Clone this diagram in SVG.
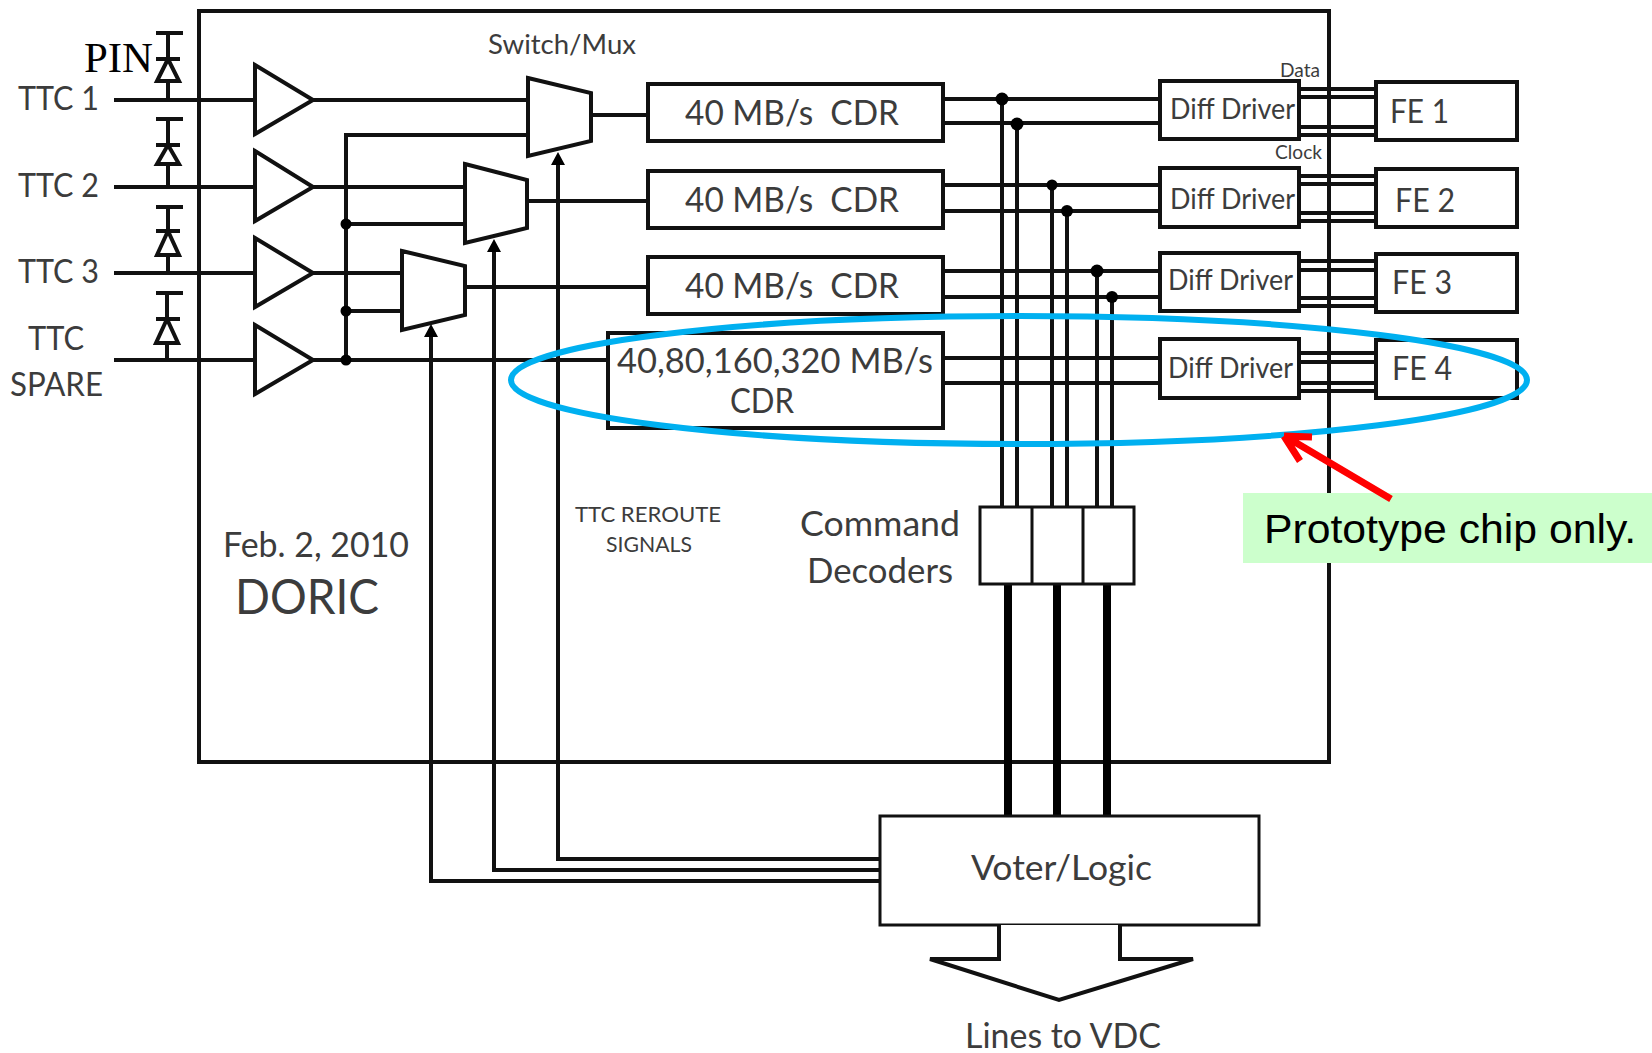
<svg xmlns="http://www.w3.org/2000/svg" width="1652" height="1053" viewBox="0 0 1652 1053">
<style>
.b{fill:#fff;stroke:#111;stroke-width:4}
.o{fill:none;stroke:#111;stroke-width:4}
.w{fill:none;stroke:#111;stroke-width:4}
.t{fill:none;stroke:#000;stroke-width:8}
.d{fill:#000}
text{font-family:Lato,"Liberation Sans",sans-serif;fill:#3c3c3c}
</style>
<rect width="1652" height="1053" fill="#fff"/>
<g id="doric-chip"><rect class="o" x="199" y="11" width="1130" height="751"/></g>
<g id="connectors">
<path class="w" d="M114 100H528M114 187H465M114 273H402M114 360H608"/>
<path class="w" d="M346 360V135H528M346 224H465M346 311H402"/>
<path class="w" d="M592 115H648M528 201H648M465 287H648"/>
<path class="w" d="M880 859H558V164M880 870H494V250M880 881H431V335"/>
<path class="d" d="M558 152l-7 13h14zM494 239l-7 13h14zM431 324l-7 13h14z"/>
<path class="w" d="M943 99H1162M943 123H1162M943 185H1162M943 211H1162M943 271H1162M943 297H1162M943 358H1162M943 383H1162"/>
<path class="w" d="M1002 99V507M1017 123V507M1052 185V507M1067 211V507M1097 271V507M1112 297V507"/>
<path class="w" d="M1299 89H1376M1299 97H1376M1299 127H1376M1299 135H1376M1299 176H1376M1299 184H1376M1299 213H1376M1299 221H1376M1299 261H1376M1299 270H1376M1299 298H1376M1299 306H1376M1299 353H1376M1299 362H1376M1299 383H1376M1299 391H1376"/>
<path class="t" d="M1008 585V816M1057 585V816M1107 585V816"/>
<circle class="d" cx="346" cy="224" r="5.5"/><circle class="d" cx="346" cy="311" r="5.5"/><circle class="d" cx="346" cy="360" r="5.5"/>
<circle class="d" cx="1002" cy="99" r="6.5"/><circle class="d" cx="1017" cy="124" r="6.5"/><circle class="d" cx="1052" cy="185" r="5.5"/><circle class="d" cx="1067" cy="211" r="6"/><circle class="d" cx="1097" cy="271" r="6.5"/><circle class="d" cx="1112" cy="297" r="6"/>
</g>
<g id="pin-diodes">
<path class="w" d="M156 33H183M168 33V100M156 59H180"/><path class="b" d="M168 59L157 81H179Z"/>
<path class="w" d="M156 119H183M168 119V187M156 145H180"/><path class="b" d="M168 145L157 164H179Z"/>
<path class="w" d="M156 207H183M168 207V273M156 231H180"/><path class="b" d="M168 231L157 255H179Z"/>
<path class="w" d="M156 293H183M167 293V360M156 319H180"/><path class="b" d="M167 319L156 343H178Z"/>
</g>
<g id="buffers">
<path class="b" d="M255 65L313 100L255 134Z"/>
<path class="b" d="M255 151L313 187L255 221Z"/>
<path class="b" d="M255 238L313 273L255 307Z"/>
<path class="b" d="M255 325L313 360L255 394Z"/>
</g>
<g id="mux-1"><path class="b" d="M528 78L591 93V141L528 156Z"/></g>
<g id="mux-2"><path class="b" d="M465 164L527 180V228L465 243Z"/></g>
<g id="mux-3"><path class="b" d="M402 251L465 266V315L402 330Z"/></g>
<g id="cdr-1"><rect class="b" x="648" y="84" width="295" height="57"/><text x="685" y="125" font-size="34" textLength="214" lengthAdjust="spacingAndGlyphs" xml:space="preserve">40 MB/s  CDR</text></g>
<g id="cdr-2"><rect class="b" x="648" y="171" width="295" height="57"/><text x="685" y="212" font-size="34" textLength="214" lengthAdjust="spacingAndGlyphs" xml:space="preserve">40 MB/s  CDR</text></g>
<g id="cdr-3"><rect class="b" x="648" y="257" width="295" height="57"/><text x="685" y="298" font-size="34" textLength="214" lengthAdjust="spacingAndGlyphs" xml:space="preserve">40 MB/s  CDR</text></g>
<g id="cdr-4"><rect class="b" x="608" y="333" width="335" height="95"/><text x="617" y="373" font-size="34" textLength="316" lengthAdjust="spacingAndGlyphs">40,80,160,320 MB/s</text><text x="730" y="413" font-size="34" textLength="64" lengthAdjust="spacingAndGlyphs">CDR</text></g>
<g id="driver-1"><rect class="b" x="1160" y="81" width="139" height="58"/><text x="1170" y="119" font-size="28" textLength="125" lengthAdjust="spacingAndGlyphs">Diff Driver</text></g>
<g id="driver-2"><rect class="b" x="1160" y="168" width="139" height="59"/><text x="1170" y="209" font-size="28" textLength="125" lengthAdjust="spacingAndGlyphs">Diff Driver</text></g>
<g id="driver-3"><rect class="b" x="1160" y="253" width="139" height="58"/><text x="1168" y="290" font-size="28" textLength="125" lengthAdjust="spacingAndGlyphs">Diff Driver</text></g>
<g id="driver-4"><rect class="b" x="1160" y="339" width="139" height="59"/><text x="1168" y="378" font-size="28" textLength="125" lengthAdjust="spacingAndGlyphs">Diff Driver</text></g>
<g id="fe-1"><rect class="b" x="1376" y="82" width="141" height="58"/><text x="1390" y="123" font-size="33" textLength="59" lengthAdjust="spacingAndGlyphs">FE 1</text></g>
<g id="fe-2"><rect class="b" x="1376" y="169" width="141" height="58"/><text x="1395" y="212" font-size="33" textLength="60" lengthAdjust="spacingAndGlyphs">FE 2</text></g>
<g id="fe-3"><rect class="b" x="1376" y="254" width="141" height="58"/><text x="1392" y="294" font-size="33" textLength="60" lengthAdjust="spacingAndGlyphs">FE 3</text></g>
<g id="fe-4"><rect class="b" x="1376" y="340" width="141" height="58"/><text x="1392" y="380" font-size="33" textLength="60" lengthAdjust="spacingAndGlyphs">FE 4</text></g>
<g id="command-decoders">
<rect class="b" x="980" y="507" width="154" height="77" style="stroke-width:3"/>
<path d="M1032 507V584M1083 507V584" fill="none" stroke="#111" stroke-width="3"/>
<text x="800" y="536" font-size="35" textLength="160" lengthAdjust="spacingAndGlyphs">Command</text>
<text x="807" y="583" font-size="35" textLength="146" lengthAdjust="spacingAndGlyphs">Decoders</text>
</g>
<g id="voter-logic"><rect class="b" x="880" y="816" width="379" height="109" style="stroke-width:3"/><text x="971" y="880" font-size="35" textLength="181" lengthAdjust="spacingAndGlyphs">Voter/Logic</text></g>
<g id="lines-to-vdc"><path d="M999 925V959H930L1059 1000L1193 959H1120V925" fill="#fff" stroke="#111" stroke-width="4"/><text x="965" y="1048" font-size="34" textLength="196" lengthAdjust="spacingAndGlyphs">Lines to VDC</text></g>
<g id="labels">
<text x="84" y="72" style="font-family:'Liberation Serif',serif;fill:#000" font-size="42" textLength="69" lengthAdjust="spacingAndGlyphs">PIN</text>
<text x="18" y="110" font-size="33" textLength="81" lengthAdjust="spacingAndGlyphs">TTC 1</text>
<text x="18" y="197" font-size="33" textLength="81" lengthAdjust="spacingAndGlyphs">TTC 2</text>
<text x="18" y="283" font-size="33" textLength="81" lengthAdjust="spacingAndGlyphs">TTC 3</text>
<text x="28" y="350" font-size="33" textLength="56" lengthAdjust="spacingAndGlyphs">TTC</text>
<text x="10" y="396" font-size="33" textLength="93" lengthAdjust="spacingAndGlyphs">SPARE</text>
<text x="488" y="54" font-size="27" textLength="148" lengthAdjust="spacingAndGlyphs">Switch/Mux</text>
<text x="1280" y="77" font-size="19" textLength="40" lengthAdjust="spacingAndGlyphs">Data</text>
<text x="1275" y="159" font-size="19" textLength="47" lengthAdjust="spacingAndGlyphs">Clock</text>
<text x="575" y="522" font-size="22" textLength="146" lengthAdjust="spacingAndGlyphs">TTC REROUTE</text>
<text x="606" y="552" font-size="22" textLength="86" lengthAdjust="spacingAndGlyphs">SIGNALS</text>
<text x="223" y="557" font-size="34" textLength="186" lengthAdjust="spacingAndGlyphs">Feb. 2, 2010</text>
<text x="235" y="614" font-size="48" textLength="144" lengthAdjust="spacingAndGlyphs">DORIC</text>
</g>
<g id="prototype-highlight">
<ellipse cx="1019" cy="380" rx="508" ry="64" fill="none" stroke="#00B0F0" stroke-width="6"/>
</g>
<g id="prototype-note">
<rect x="1243" y="493" width="409" height="70" fill="#CCFFCC"/>
<text x="1264" y="543" font-size="40" style="font-family:'Liberation Sans',Arial,sans-serif;fill:#000" textLength="372" lengthAdjust="spacingAndGlyphs">Prototype chip only.</text>
</g>
<g id="prototype-arrow">
<path d="M1391 499L1288 438M1284 436L1312 437M1284 436L1300 461" fill="none" stroke="#FF0000" stroke-width="7"/>
</g>
</svg>
